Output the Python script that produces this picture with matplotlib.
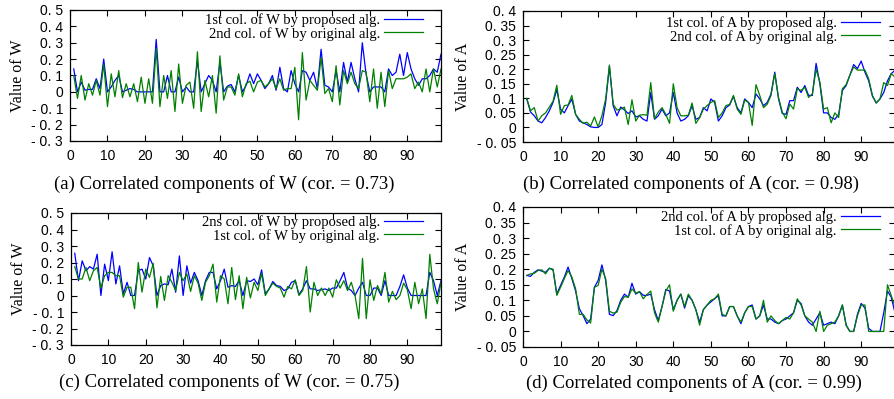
import numpy as np
from matplotlib import pyplot as plt

# x positions of the entries (1..99), axis runs 0..99
idx = list(range(1, 100))

a_prop = [0.14, 0.0, 0.06, 0.01, 0.015, 0.015, 0.08, 0.02, 0.20, 0.0,
          0.03, 0.07, 0.10, 0.0, 0.01, 0.02, 0.015, 0.0, 0.0, 0.0,
          0.0, 0.0, 0.32, 0.0, 0.0, 0.10, 0.0, 0.0, 0.09, 0.0,
          0.03, 0.0, 0.0, 0.19, 0.0, 0.05, 0.10, 0.07, 0.0, 0.18,
          0.0, 0.035, 0.045, 0.0, 0.10, 0.0, 0.04, 0.11, 0.05, 0.11,
          0.07, 0.02, 0.05, 0.10, 0.01, 0.15, 0.02, 0.0, 0.13, 0.05,
          0.0, 0.13, 0.12, 0.07, 0.12, 0.02, 0.26, 0.04, 0.03, 0.0,
          0.13, 0.0, 0.18, 0.06, 0.18, 0.08, 0.0, 0.30, 0.11, 0.0,
          0.03, 0.03, 0.03, 0.0, 0.14, 0.10, 0.12, 0.23, 0.10, 0.24,
          0.14, 0.08, 0.04, 0.08, 0.08, 0.10, 0.14, 0.12, 0.23]
a_orig = [0.10, -0.04, 0.10, -0.05, 0.05, -0.02, 0.07, -0.02, 0.17, -0.09,
          0.11, -0.03, 0.13, -0.035, 0.05, -0.03, 0.05, -0.06, 0.09, -0.07,
          0.08, -0.07, 0.265, -0.09, 0.10, -0.04, 0.13, -0.12, 0.17, -0.07,
          0.04, 0.06, -0.10, 0.245, -0.12, 0.07, -0.03, 0.10, -0.13, 0.22,
          -0.05, 0.03, 0.03, -0.02, 0.11, -0.03, 0.05, 0.065, 0.0, 0.06,
          0.07, 0.03, 0.05, 0.08, 0.02, 0.08, 0.01, 0.02, 0.02, 0.15,
          -0.17, 0.24, -0.05, 0.07, 0.04, 0.01, 0.21, -0.01, 0.02, -0.06,
          0.16, -0.08, 0.13, 0.05, 0.12, 0.05, 0.02, 0.13, 0.12, -0.06,
          0.14, -0.10, 0.12, -0.09, 0.13, 0.02, 0.08, 0.08, 0.08, 0.09,
          0.11, 0.02, 0.06, 0.0, 0.14, 0.0, 0.14, 0.03, 0.14]

b_prop = [0.098, 0.053, 0.04, 0.022, 0.016, 0.034, 0.057, 0.086, 0.13, 0.063,
          0.05, 0.075, 0.097, 0.045, 0.022, 0.016, 0.01, 0.002, 0.0, 0.0,
          0.01, 0.086, 0.21, 0.075, 0.04, 0.07, 0.06, 0.048, 0.057, 0.036,
          0.04, 0.028, 0.022, 0.12, 0.028, 0.04, 0.063, 0.04, 0.05, 0.12,
          0.05, 0.022, 0.028, 0.04, 0.075, 0.028, 0.034, 0.068, 0.057, 0.098,
          0.086, 0.022, 0.04, 0.068, 0.077, 0.107, 0.068, 0.05, 0.098, 0.086,
          0.068, 0.115, 0.098, 0.075, 0.086, 0.115, 0.19, 0.098, 0.048, 0.045,
          0.092, 0.092, 0.138, 0.12, 0.144, 0.11, 0.11, 0.22, 0.15, 0.05,
          0.05, 0.034, 0.028, 0.045, 0.127, 0.144, 0.18, 0.216, 0.202, 0.228,
          0.19, 0.16, 0.107, 0.084, 0.098, 0.12, 0.16, 0.185, 0.196]
b_orig = [0.1, 0.057, 0.068, 0.022, 0.04, 0.05, 0.07, 0.09, 0.145, 0.045,
          0.075, 0.077, 0.11, 0.045, 0.028, 0.014, 0.018, 0.005, 0.036, 0.002,
          0.04, 0.098, 0.214, 0.08, 0.06, 0.063, 0.07, 0.01, 0.095, 0.022,
          0.042, 0.044, 0.042, 0.154, 0.03, 0.053, 0.068, 0.045, 0.014, 0.15,
          0.068, 0.04, 0.04, 0.042, 0.084, 0.014, 0.034, 0.063, 0.075, 0.086,
          0.092, 0.034, 0.05, 0.075, 0.079, 0.11, 0.063, 0.045, 0.094, 0.086,
          0.007, 0.147, 0.11, 0.068, 0.08, 0.11, 0.185, 0.103, 0.053, 0.03,
          0.08, 0.063, 0.133, 0.127, 0.138, 0.103, 0.115, 0.2, 0.156, 0.063,
          0.068, 0.016, 0.05, 0.034, 0.133, 0.147, 0.18, 0.208, 0.197, 0.197,
          0.197, 0.167, 0.11, 0.084, 0.098, 0.154, 0.144, 0.185, 0.173]

c_prop = [0.256, 0.09, 0.21, 0.15, 0.175, 0.16, 0.25, 0.0, 0.19, 0.09,
          0.265, 0.07, 0.18, 0.01, 0.08, 0.0, 0.0, 0.15, 0.16, 0.10,
          0.23, 0.18, 0.0, 0.06, 0.07, 0.065, 0.16, 0.02, 0.24, 0.0,
          0.18, 0.075, 0.14, 0.09, 0.0, 0.09, 0.14, 0.14, 0.04, 0.09,
          0.16, 0.05, 0.06, 0.055, 0.09, 0.0, 0.09, 0.085, 0.10, 0.065,
          0.155, 0.01, 0.04, 0.085, 0.06, 0.055, 0.03, 0.04, 0.08, 0.09,
          0.005, 0.04, 0.09, 0.04, 0.04, 0.03, 0.035, 0.04, 0.03, 0.045,
          0.045, 0.09, 0.14, 0.045, 0.03, 0.0, 0.045, 0.08, 0.0, 0.0,
          0.045, 0.045, 0.0, 0.09, 0.0, 0.0, 0.0, 0.055, 0.125, 0.045,
          0.0, 0.0, 0.0, 0.0, 0.0, 0.14, 0.09, 0.0, 0.09]
c_orig = [0.175, 0.10, 0.10, 0.17, 0.09, 0.15, 0.17, 0.045, 0.12, 0.14,
          0.14, 0.12, 0.12, -0.01, 0.05, 0.05, -0.08, 0.20, 0.02, 0.16,
          0.11, 0.195, -0.075, 0.115, -0.03, 0.12, 0.08, 0.03, 0.14, 0.09,
          0.13, 0.025, 0.12, 0.075, -0.03, 0.08, 0.12, 0.19, -0.04, 0.12,
          0.10, -0.05, 0.17, -0.025, 0.12, -0.08, 0.11, -0.015, 0.08, 0.03,
          0.135, 0.0, 0.04, 0.075, 0.055, 0.045, -0.01, 0.055, 0.04, 0.095,
          0.0, 0.03, 0.175, -0.10, 0.08, 0.0, 0.045, 0.0, 0.045, -0.01,
          0.095, 0.045, 0.09, 0.03, 0.08, 0.0, -0.14, 0.225, -0.14, 0.095,
          -0.03, 0.06, 0.01, 0.14, -0.04, 0.025, -0.025, 0.0, 0.075, 0.035,
          -0.08, 0.08, -0.05, 0.04, -0.14, 0.25, 0.04, -0.05, 0.08]

d_prop = [0.18, 0.177, 0.19, 0.198, 0.194, 0.19, 0.203, 0.198, 0.12, 0.148,
          0.175, 0.207, 0.17, 0.13, 0.073, 0.051, 0.025, 0.04, 0.142, 0.164,
          0.214, 0.164, 0.055, 0.051, 0.067, 0.1, 0.12, 0.11, 0.155, 0.12,
          0.128, 0.116, 0.116, 0.12, 0.07, 0.035, 0.08, 0.135, 0.13, 0.07,
          0.1, 0.12, 0.075, 0.115, 0.1, 0.07, 0.03, 0.07, 0.085, 0.095,
          0.105, 0.115, 0.05, 0.05, 0.08, 0.08, 0.05, 0.025, 0.06, 0.08,
          0.085, 0.04, 0.05, 0.085, 0.04, 0.04, 0.03, 0.025, 0.035, 0.04,
          0.05, 0.06, 0.1, 0.09, 0.05, 0.03, 0.02, 0.04, 0.06, 0.02,
          0.025, 0.03, 0.025, 0.05, 0.085, 0.02, 0.0, 0.0, 0.055, 0.09,
          0.075, 0.01, 0.0, 0.0, 0.0, 0.06, 0.13, 0.11, 0.06]
d_orig = [0.18, 0.185, 0.187, 0.196, 0.198, 0.185, 0.203, 0.2, 0.116, 0.142,
          0.17, 0.196, 0.175, 0.137, 0.055, 0.055, 0.037, 0.027, 0.142, 0.148,
          0.2, 0.17, 0.065, 0.059, 0.062, 0.094, 0.112, 0.11, 0.137, 0.123,
          0.128, 0.105, 0.119, 0.13, 0.06, 0.03, 0.08, 0.13, 0.15, 0.065,
          0.1, 0.12, 0.08, 0.12, 0.1, 0.07, 0.02, 0.07, 0.085, 0.1,
          0.105, 0.12, 0.055, 0.05, 0.08, 0.08, 0.05, 0.03, 0.06, 0.08,
          0.08, 0.04, 0.05, 0.1, 0.03, 0.05, 0.035, 0.025, 0.035, 0.045,
          0.04, 0.06, 0.105, 0.085, 0.05, 0.04, 0.03, 0.0, 0.065, 0.0,
          0.02, 0.025, 0.03, 0.05, 0.085, 0.02, 0.0, 0.0, 0.05, 0.085,
          0.085, 0.0, 0.0, 0.0, 0.0, 0.0, 0.15, 0.115, 0.08]

w_ticks = [0.5, 0.4, 0.3, 0.2, 0.1, 0, -0.1, -0.2, -0.3]
w_labels = ["0. 5", "0. 4", "0. 3", "0. 2", "0. 1", "0", "- 0. 1", "- 0. 2", "- 0. 3"]
a_ticks = [0.4, 0.35, 0.3, 0.25, 0.2, 0.15, 0.1, 0.05, 0, -0.05]
a_labels = ["0. 4", "0. 35", "0. 3", "0. 25", "0. 2", "0. 15", "0. 1", "0. 05", "0", "- 0. 05"]
x_ticks = list(range(0, 100, 10))

BLUE = "#0000ff"
GREEN = "#008000"
SERIF = "Liberation Serif"
SANS = "Liberation Sans"

fig = plt.figure(figsize=(8.94, 3.99), dpi=100)
W, H = 894.0, 399.0


def panel(box, prop, orig, labels, yticks, ylabels, ylab, caption, cap_xy, leg_xy):
    left, top, right, bottom = box
    w, h = right - left, bottom - top
    ax = fig.add_axes([left / W, 1 - bottom / H, w / W, h / H])
    ax.plot(idx, prop, color=BLUE, lw=0.9, label=labels[0])
    ax.plot(idx, orig, color=GREEN, lw=0.9, label=labels[1])
    ax.set_xlim(0, 99)
    ax.set_ylim(yticks[-1], yticks[0])
    ax.set_xticks(x_ticks)
    ax.set_xticklabels([str(t) for t in x_ticks], family=SANS, fontsize=10)
    ax.set_yticks(yticks)
    ax.set_yticklabels(ylabels, family=SANS, fontsize=10)
    ax.tick_params(direction="in", top=True, right=True, length=4, width=0.8, pad=5)
    ax.tick_params(axis="x", pad=6)
    for s in ax.spines.values():
        s.set_linewidth(0.9)
    ax.set_ylabel(ylab, family=SERIF, fontsize=11.5, labelpad=4)
    # legend box corner given in pixels (right end of sample line, top of first row)
    ax.legend(loc="upper right", frameon=False, markerfirst=False,
              prop={"family": SERIF, "size": 10.5}, handlelength=2.7,
              handletextpad=0.25, labelspacing=0.0, borderaxespad=0,
              borderpad=0.0,
              bbox_to_anchor=((leg_xy[0] - left) / w, 1 - (leg_xy[1] - top) / h))
    fig.text(cap_xy[0] / W, 1 - cap_xy[1] / H, caption, family=SERIF,
             fontsize=13.5, ha="center", va="center")
    return ax


panel((70, 10, 441, 141), a_prop, a_orig,
      ["1st col. of W by proposed alg.", "2nd col. of W by original alg."],
      w_ticks, w_labels, "Value of W",
      "(a) Correlated components of W (cor. = 0.73)", (224, 184), (423, 13))
panel((523, 11, 895, 142), b_prop, b_orig,
      ["1st col. of A by proposed alg.", "2nd col. of A by original alg."],
      a_ticks, a_labels, "Value of A",
      "(b) Correlated components of A (cor. = 0.98)", (691, 184), (880, 16))
panel((71, 213, 441, 345), c_prop, c_orig,
      ["2ns col. of W by proposed alg.", "1st col. of W by original alg."],
      w_ticks, w_labels, "Value of W",
      "(c) Correlated components of W (cor. = 0.75)", (229, 382), (423, 215))
panel((523, 207, 895, 347), d_prop, d_orig,
      ["2nd col. of A by proposed alg.", "1st col. of A by original alg."],
      a_ticks, a_labels, "Value of A",
      "(d) Correlated components of A (cor. = 0.99)", (694, 383), (880, 210))

fig.savefig("out.png", dpi=100)
